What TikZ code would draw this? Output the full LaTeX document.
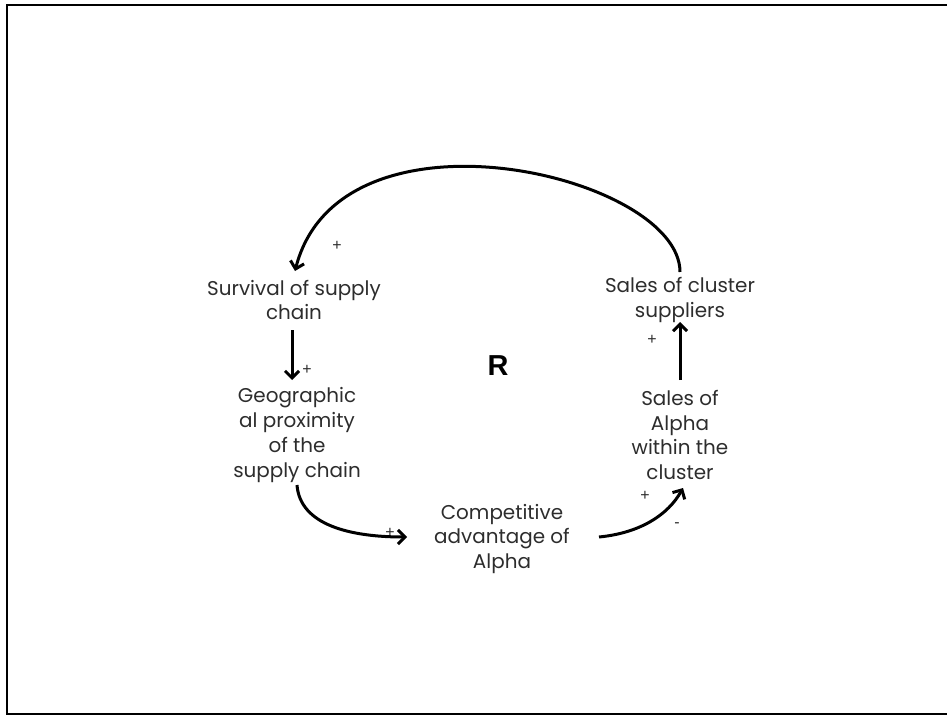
\documentclass[tikz,border=0pt]{standalone}
\usepackage{fontspec}
\setmainfont{Poppins}
\newfontfamily\rfont{Liberation Sans}
\usetikzlibrary{arrows.meta}
\definecolor{txt}{RGB}{45,45,45}
\begin{document}
\begin{tikzpicture}[x=1bp,y=-1bp,
  var/.style={align=center, inner sep=0pt, text=txt, font=\fontsize{20}{25}\selectfont},
  sgn/.style={inner sep=0pt, font=\rfont\fontsize{16}{18}\selectfont, text=txt},
  arr/.style={line width=3bp, -{Straight Barb[length=7bp,width=14bp]}}]
\useasboundingbox (0,0) rectangle (947,715);
\fill[white] (0,0) rectangle (947,715);
\draw[line width=2bp] (960,5) -- (7,5) -- (7,714) -- (960,714);

\node[var] (surv) at (294,300) {Survival of supply\\chain};
\node[var] (geo) at (297,435) {Geographic\\al proximity\\of the\\supply chain};
\node[var] (comp) at (502,539) {Competitive\\advantage of\\Alpha};
\node[var] (alpha) at (680,435) {Sales of\\Alpha\\within the\\cluster};
\node[var] (sup) at (680,300) {Sales of cluster\\suppliers};
\node[inner sep=0pt, font=\rfont\bfseries\fontsize{29}{30}\selectfont] (r) at (498,366) {R};

\node[sgn] (p1) at (337,246) {+};
\node[sgn] (p2) at (307,370) {+};
\node[sgn] (p3) at (390,533) {+};
\node[sgn] (p4) at (645,496) {+};
\node[sgn] (m4) at (677,525) {-};
\node[sgn] (p5) at (652,340) {+};

\draw[arr] ([shift={(0,-28)}]sup.center) .. controls (680,175) and (340,95) .. ([shift={(1,-29)}]surv.center);
\draw[arr] ([shift={(-2,30)}]surv.center) -- ([shift={(-2,80)}]surv.center);
\draw[arr] ([shift={(0,50)}]geo.center) .. controls (300,525) and (350,537) .. ([shift={(-95,-2)}]comp.center);
\draw[arr] ([shift={(97,-2)}]comp.center) .. controls (640,533) and (668,515) .. ([shift={(3,53)}]alpha.center);
\draw[arr] ([shift={(0,-55)}]alpha.center) -- ([shift={(0,22)}]sup.center);
\end{tikzpicture}
\end{document}
